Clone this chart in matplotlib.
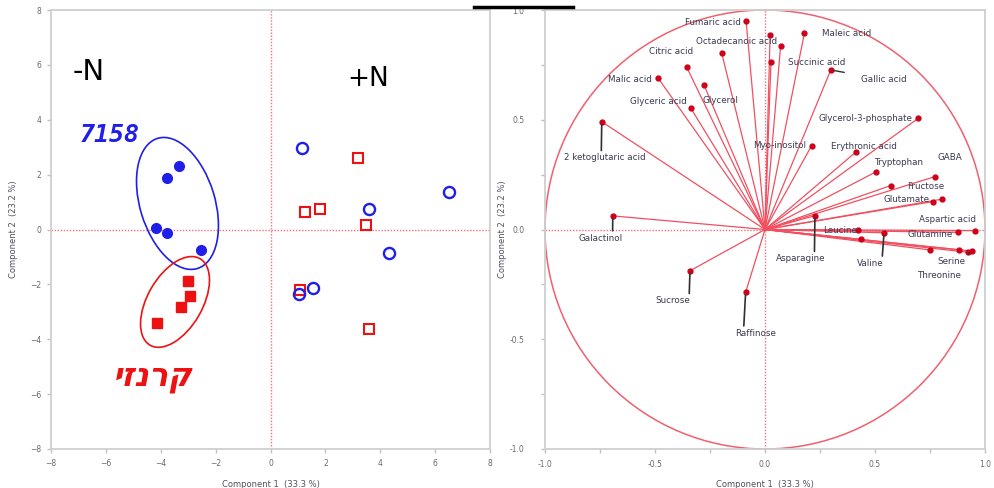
import matplotlib
matplotlib.use('Agg')
import matplotlib.pyplot as plt
from matplotlib.patches import Ellipse, Circle
from matplotlib.lines import Line2D

# ---- score plot (left) ----
minus_7158_x = [-3.35, -3.79, -4.19, -3.79, -2.52]
minus_7158_y = [2.30, 1.86, 0.04, -0.11, -0.73]
minus_cv_x = [-2.99, -2.95, -3.28, -4.12]
minus_cv_y = [-1.86, -2.41, -2.84, -3.39]
plus_7158_x = [1.14, 3.60, 6.52, 4.33, 1.54, 1.03]
plus_7158_y = [2.98, 0.73, 1.36, -0.84, -2.14, -2.34]
plus_cv_x = [3.20, 1.27, 1.82, 3.48, 1.06, 3.58]
plus_cv_y = [2.62, 0.62, 0.73, 0.18, -2.22, -3.64]
score_ticks = [-8, -6, -4, -2, 0, 2, 4, 6, 8]
cultivar_name = "קרנזי"

# ---- loading plot (right) ----
metabolites = ["Galactinol", "2 ketoglutaric acid", "Malic acid", "Glyceric acid",
               "Citric acid", "Glycerol", "", "Fumaric acid", "", "Octadecanoic acid",
               "Succinic acid", "Maleic acid", "Gallic acid", "Glycerol-3-phosphate",
               "Myo-inositol", "Erythronic acid", "Tryptophan", "GABA", "Fructose",
               "Glutamate", "", "Asparagine", "Aspartic acid", "Glutamine", "Leucine",
               "", "Valine", "", "", "Threonine", "Serine", "Sucrose", "Raffinose"]
load1 = [-0.692, -0.742, -0.486, -0.338, -0.356, -0.277, -0.197, -0.086, 0.023, 0.071,
         0.027, 0.179, 0.299, 0.697, 0.212, 0.414, 0.505, 0.773, 0.571, 0.803, 0.762,
         0.227, 0.955, 0.879, 0.424, 0.435, 0.541, 0.750, 0.883, 0.924, 0.940,
         -0.341, -0.088]
load2 = [0.062, 0.491, 0.690, 0.554, 0.740, 0.658, 0.805, 0.951, 0.886, 0.836,
         0.763, 0.894, 0.727, 0.507, 0.382, 0.354, 0.263, 0.241, 0.200, 0.138, 0.127,
         0.063, -0.005, -0.013, -0.002, -0.045, -0.015, -0.093, -0.093, -0.104, -0.098,
         -0.188, -0.286]
load_ticks = [-1.0, -0.5, 0.0, 0.5, 1.0]

# label placement (offset points) and leader line anchor on the label
label_offsets = {
    "Galactinol": (-9, -16), "2 ketoglutaric acid": (2, -26), "Malic acid": (-20, -1),
    "Glyceric acid": (-23, 4.5), "Citric acid": (-11, 11), "Glycerol": (11.5, -11),
    "Fumaric acid": (-24, -1.5), "Octadecanoic acid": (-32, 3), "Succinic acid": (33, 0),
    "Maleic acid": (30.5, 0), "Gallic acid": (38, -7), "Glycerol-3-phosphate": (-38, -0.5),
    "Myo-inositol": (-23, 0), "Erythronic acid": (6, 4), "Tryptophan": (16, 6.5),
    "GABA": (10.5, 14), "Fructose": (25, -0.7), "Glutamate": (-25, -0.5),
    "Asparagine": (-10, -31), "Aspartic acid": (-20, 7.7), "Glutamine": (-20, -1.4),
    "Leucine": (-13, -0.7), "Valine": (-10, -22), "Threonine": (-21, -17),
    "Serine": (-14.7, -7.2), "Sucrose": (-12.6, -21.6), "Raffinose": (7.4, -29.5),
}
leaders = {"Galactinol": 0.78, "2 ketoglutaric acid": 0.46, "Asparagine": 0.77,
           "Valine": 0.95, "Sucrose": 0.98, "Raffinose": 0.2}

plt.rcParams['font.family'] = ['DejaVu Sans']

fig = plt.figure(figsize=(9.94, 4.88), dpi=100)
ax1 = fig.add_axes([51/994, 39/488, 439/994, 439/488])
ax2 = fig.add_axes([545/994, 39/488, 440/994, 439/488])

for ax in (ax1, ax2):
    for s in ax.spines.values():
        s.set_color('#cfcfcf')
        s.set_linewidth(1.3)
    ax.tick_params(which='both', colors='#c0c0c0', labelcolor='#6a6a6a',
                   labelsize=5.5, length=3, width=1)
    ax.axvline(0, color='#f07080', lw=1, ls=(0, (1, 1.2)), zorder=1)
    ax.axhline(0, color='#f07080', lw=1, ls=(0, (1, 1.2)), zorder=1)

blue = '#1f1fe8'
red = '#ee1111'

ax1.set_xlim(-8, 8)
ax1.set_ylim(-8, 8)
ax1.set_xticks(score_ticks)
ax1.set_yticks(score_ticks)
ax1.tick_params(pad=4)
ax1.plot(minus_7158_x, minus_7158_y, 'o', color=blue, ms=7, zorder=3)
ax1.plot(minus_cv_x, minus_cv_y, 's', color=red, ms=6.5, zorder=3)
ax1.plot(plus_cv_x, plus_cv_y, 's', mfc='none', mec=red, ms=7, mew=1.5, zorder=3)
ax1.plot(plus_7158_x, plus_7158_y, 'o', mfc='none', mec=blue, ms=8, mew=1.7, zorder=3)
ax1.add_patch(Ellipse((-3.39, 0.95), 4.96, 2.73, angle=107, fill=False, ec=blue, lw=1.2))
ax1.add_patch(Ellipse((-3.48, -2.64), 3.64, 2.0, angle=60, fill=False, ec=red, lw=1.2))
ax1.text(-6.63, 5.74, "-N", fontsize=21, ha='center', va='center')
ax1.text(3.57, 5.50, "+N", fontsize=19, ha='center', va='center')
ax1.text(-5.87, 3.46, "7158", fontsize=18, ha='center', va='center', color=blue,
         family='DejaVu Sans Mono', weight='bold', style='italic')
ax1.text(-4.3, -5.4, cultivar_name[::-1], fontsize=23, ha='center', va='center',
         color=red, weight='bold', style='italic')
ax1.set_xlabel("Component 1  (33.3 %)", fontsize=6, color='#505060', labelpad=9)
ax1.set_ylabel("Component 2  (23.2 %)", fontsize=6, color='#505060', labelpad=9)

ax2.set_xlim(-1, 1)
ax2.set_ylim(-1, 1)
ax2.set_xticks(load_ticks)
ax2.set_yticks(load_ticks)
ax2.set_xticklabels([f"{t:.1f}" for t in load_ticks])
ax2.set_yticklabels([f"{t:.1f}" for t in load_ticks])
ax2.set_xticks([-0.75, -0.25, 0.25, 0.75], minor=True)
ax2.set_yticks([-0.75, -0.25, 0.25, 0.75], minor=True)
ax2.tick_params(axis='y', pad=12)
ax2.tick_params(axis='x', pad=5)
ax2.add_patch(Circle((0, 0), 1, fill=False, ec='#f06070', lw=1.1, clip_on=False))
for x, y in zip(load1, load2):
    ax2.plot([0, x], [0, y], color='#f05060', lw=0.9, zorder=2)
ax2.plot(load1, load2, 'o', color='#d00018', ms=3.5, zorder=3)
for name, x, y in zip(metabolites, load1, load2):
    if not name:
        continue
    dx, dy = label_offsets[name]
    arrow = None
    if name in leaders:
        arrow = dict(arrowstyle='-', color='#303030', lw=1.2,
                     relpos=(leaders[name], 1.0), shrinkA=0, shrinkB=2)
    elif name == "Gallic acid":
        arrow = dict(arrowstyle='-', color='#303030', lw=1, shrinkA=10, shrinkB=2)
    elif name == "Serine":
        arrow = dict(arrowstyle='-', color='#303030', lw=1, relpos=(1.0, 1.0),
                     shrinkA=0, shrinkB=2)
    ax2.annotate(name, xy=(x, y), xytext=(dx, dy), textcoords='offset points',
                 ha='center', va='center', fontsize=6.3, color='#3a3a50',
                 arrowprops=arrow, zorder=4)
ax2.set_xlabel("Component 1  (33.3 %)", fontsize=6, color='#505060', labelpad=8)
ax2.set_ylabel("Component 2  (23.2 %)", fontsize=6, color='#505060', labelpad=2)

# black rule at the top edge (cropped title)
fig.add_artist(Line2D([474/994, 573/994], [1 - 6.5/488, 1 - 6.5/488],
                      color='black', lw=2.5))

fig.savefig('out.png', dpi=100)
